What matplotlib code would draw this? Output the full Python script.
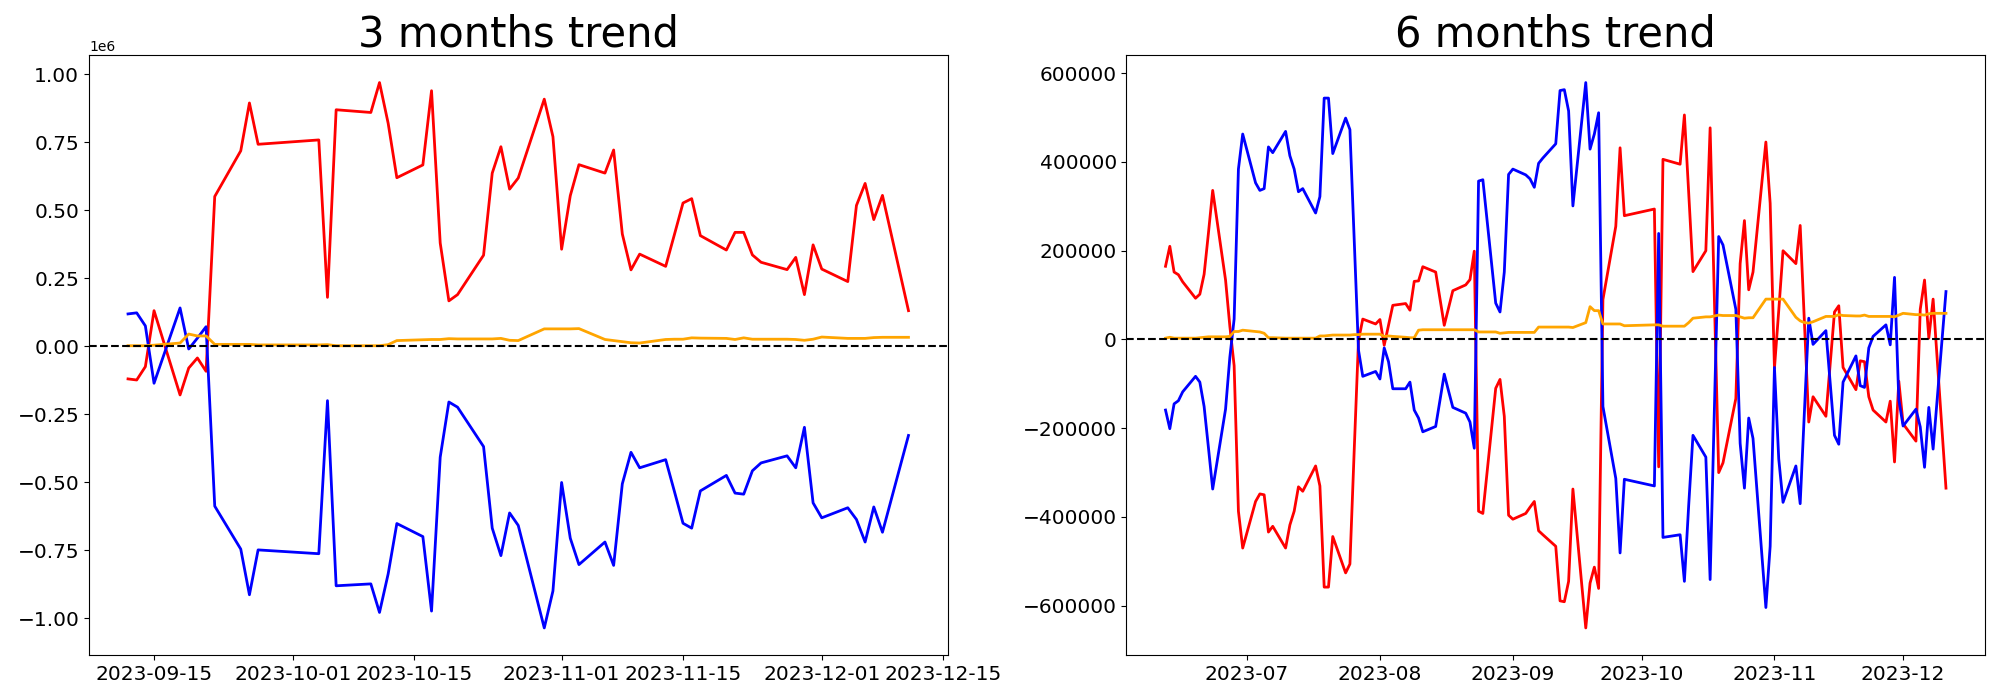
import numpy as np
import pandas as pd
import matplotlib
matplotlib.use("Agg")
import matplotlib.pyplot as plt
import matplotlib.dates as mdates
from matplotlib.ticker import MultipleLocator

# KRX trading calendar (market closed on these weekdays)
krx_holidays = ["2023-08-15", "2023-09-28", "2023-09-29", "2023-10-02",
                "2023-10-03", "2023-10-09"]
dates_3m = pd.bdate_range("2023-09-12", "2023-12-11", freq="C", holidays=krx_holidays)
dates_6m = pd.bdate_range("2023-06-12", "2023-12-11", freq="C", holidays=krx_holidays)

# 3 months (values in millions)
red_3m = [-0.120, -0.124, -0.075, 0.131, -0.179, -0.080, -0.043, -0.092, 0.551, 0.719, 0.895, 0.743,
          0.759, 0.180, 0.870, 0.860, 0.970, 0.820, 0.620, 0.667, 0.940, 0.380, 0.167, 0.190,
          0.335, 0.637, 0.734, 0.578, 0.619, 0.909, 0.771,
          0.357, 0.554, 0.668, 0.637, 0.722, 0.413, 0.281, 0.339, 0.294, 0.410, 0.527, 0.543,
          0.407, 0.354, 0.419, 0.419, 0.336, 0.309, 0.282, 0.327, 0.190, 0.373,
          0.284, 0.238, 0.518, 0.599, 0.466, 0.555, 0.131]
blue_3m = [0.119, 0.123, 0.075, -0.136, 0.141, -0.010, 0.030, 0.072, -0.588, -0.746, -0.914, -0.749,
           -0.763, -0.200, -0.881, -0.874, -0.979, -0.837, -0.652, -0.700, -0.974, -0.408, -0.205, -0.224,
           -0.369, -0.669, -0.770, -0.613, -0.659, -1.036, -0.900,
           -0.501, -0.706, -0.803, -0.720, -0.806, -0.506, -0.390, -0.447, -0.417, -0.533, -0.651, -0.669,
           -0.532, -0.475, -0.540, -0.544, -0.458, -0.429, -0.403, -0.447, -0.298, -0.576,
           -0.631, -0.594, -0.637, -0.720, -0.591, -0.684, -0.328]
orange_3m = [0.002, 0.002, 0.002, 0.004, 0.012, 0.045, 0.038, 0.038, 0.007, 0.007, 0.007, 0.005,
             0.005, 0.006, 0.002, 0.002, 0.002, 0.006, 0.021, 0.024, 0.025, 0.025, 0.028, 0.027,
             0.027, 0.027, 0.029, 0.022, 0.021, 0.064, 0.064,
             0.064, 0.064, 0.065, 0.025, 0.021, 0.017, 0.013, 0.012, 0.025, 0.026, 0.026, 0.031,
             0.030, 0.029, 0.025, 0.031, 0.026, 0.026, 0.026, 0.025, 0.022, 0.026,
             0.034, 0.029, 0.029, 0.029, 0.032, 0.033, 0.033]

# 6 months (values in thousands)
red_6m = [165, 210, 152, 146, 130, 93, 102, 147, 239, 336, 134, 30, -59, -387, -470,
          -365, -348, -350, -434, -421, -470, -418, -387, -332, -342, -285, -330, -558, -558, -444,
          -526, -506, -250, -2, 46, 35,
          45, -13, 32, 77, 81, 66, 131, 132, 164, 152, 32, 71, 110, 123, 135, 199, -387, -392,
          -110, -90, -173, -396,
          -405, -392, -378, -365, -431, -440, -466, -589, -591, -545, -337, -650, -549, -513, -561, 90,
          255, 432, 279,
          294, -287, 406, 395, 506, 331, 153, 200, 477, 89, -300, -278, -133, 171, 268, 112, 152,
          445, 307,
          -65, 65, 200, 171, 257, 36, -186, -129, -173, -55, 62, 76, -63, -113, -48, -50, -129, -159,
          -186, -139, -276, -94,
          -190, -229, 68, 134, 3, 91, -335]
blue_6m = [-159, -201, -145, -138, -118, -83, -96, -151, -243, -337, -157, -40, 46, 384, 463,
           353, 336, 340, 434, 421, 469, 414, 384, 333, 340, 285, 322, 544, 544, 419,
           499, 473, 225, -24, -83, -72,
           -89, -19, -50, -111, -111, -96, -159, -177, -208, -196, -78, -116, -153, -166, -186, -245,
           357, 360, 82, 62, 152, 372,
           384, 371, 362, 343, 397, 409, 441, 561, 563, 515, 301, 579, 429, 463, 511, -151,
           -313, -481, -315,
           -330, 239, -446, -440, -545, -374, -216, -265, -541, -154, 232, 213, 68, -234, -335, -177,
           -223, -604, -466,
           -63, -269, -367, -285, -370, -160, 48, -11, 20, -98, -216, -236, -96, -37, -104, -108,
           -19, 7, 33, -12, 140, -135,
           -195, -157, -197, -288, -153, -247, 108]
orange_6m = [3, 5, 3, 3, 3, 3, 4, 5, 6, 6, 6, 7, 18, 18, 21,
             18, 17, 14, 4, 4, 3, 3, 3, 3, 3, 3, 8, 8, 9, 10, 10, 10, 11, 11, 12, 12,
             12, 7, 8, 7, 5, 4, 4, 21, 22, 22, 22, 22, 22, 22, 22, 22, 17, 17, 17, 14, 15, 16,
             16, 16, 16, 16, 28, 28, 28, 28, 28, 28, 27, 38, 74, 65, 65, 35, 35, 35, 31,
             33, 33, 30, 30, 30, 38, 48, 51, 51, 53, 55, 54, 54, 51, 48, 49, 49, 91, 91,
             91, 91, 91, 50, 42, 38, 37, 40, 52, 52, 52, 56, 54, 53, 53, 55, 52, 52, 52, 52, 51, 55,
             59, 56, 56, 55, 58, 59, 59]

fig, (ax1, ax2) = plt.subplots(1, 2, figsize=(20, 7), dpi=100)
fig.subplots_adjust(left=0.0445, right=0.9925, bottom=0.064, top=0.921, wspace=0.2085)

lw = 2
ax1.plot(dates_3m, np.array(red_3m) * 1e6, color="red", lw=lw)
ax1.plot(dates_3m, np.array(blue_3m) * 1e6, color="blue", lw=lw)
ax1.plot(dates_3m, np.array(orange_3m) * 1e6, color="orange", lw=lw)
ax1.axhline(0, color="black", linestyle="--", lw=1.5)
ax1.set_title("3 months trend", fontsize=30)
ax1.xaxis.set_major_locator(mdates.DayLocator(bymonthday=[1, 15]))
ax1.xaxis.set_major_formatter(mdates.DateFormatter("%Y-%m-%d"))
ax1.yaxis.set_major_locator(MultipleLocator(250000))

ax2.plot(dates_6m, np.array(red_6m) * 1e3, color="red", lw=lw)
ax2.plot(dates_6m, np.array(blue_6m) * 1e3, color="blue", lw=lw)
ax2.plot(dates_6m, np.array(orange_6m) * 1e3, color="orange", lw=lw)
ax2.axhline(0, color="black", linestyle="--", lw=1.5)
ax2.set_title("6 months trend", fontsize=30)
ax2.xaxis.set_major_locator(mdates.MonthLocator())
ax2.xaxis.set_major_formatter(mdates.DateFormatter("%Y-%m"))
ax2.yaxis.set_major_locator(MultipleLocator(200000))

for ax in (ax1, ax2):
    ax.tick_params(labelsize=14.5)

fig.savefig("out.png", dpi=100)
